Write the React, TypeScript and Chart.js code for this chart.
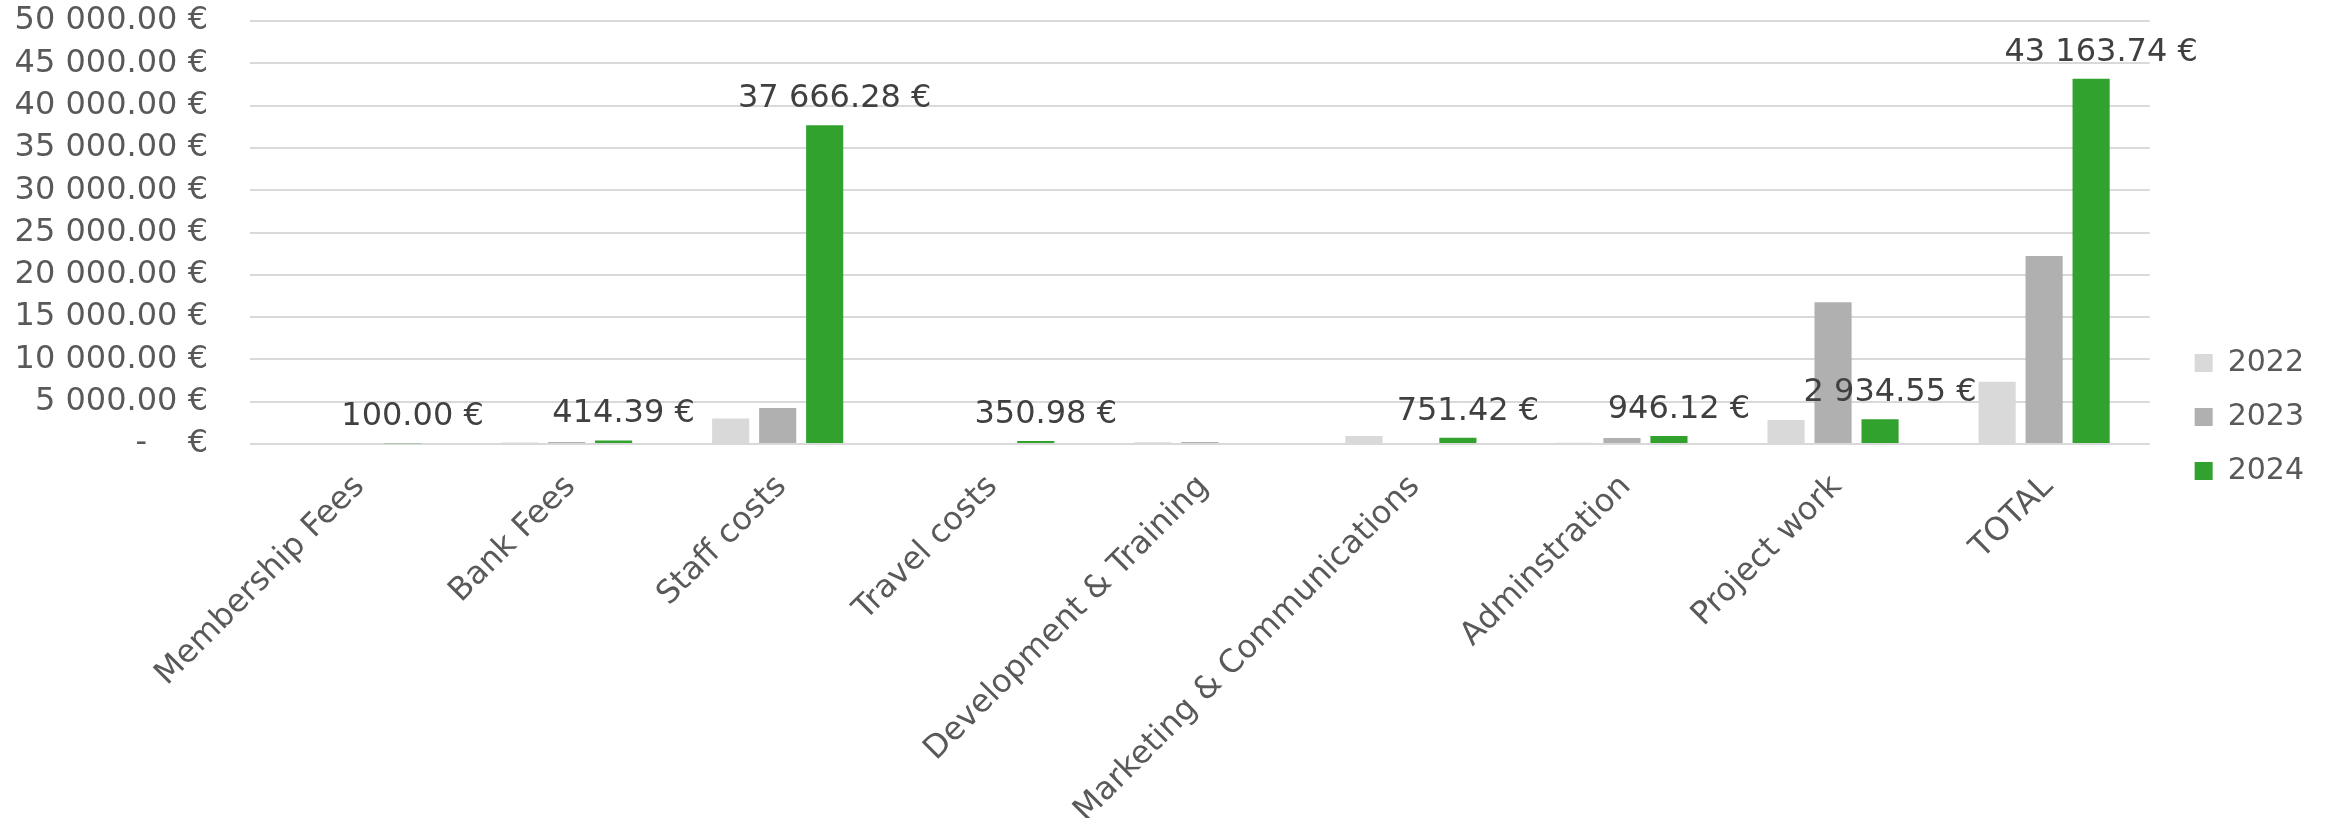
import React, { useEffect, useRef } from 'react';
import { Chart, registerables } from 'chart.js';

Chart.register(...registerables);

const categories = [
  'Membership Fees',
  'Bank Fees',
  'Staff costs',
  'Travel costs',
  'Development & Training',
  'Marketing & Communications',
  'Adminstration',
  'Project work',
  'TOTAL',
];
const seriesNames = ['2022', '2023', '2024'];
const values2022 = [0, 180, 3020, 0, 200, 950, 150, 2850, 7350];
const values2023 = [0, 250, 4250, 0, 250, 0, 700, 16750, 22230];
const values2024 = [100, 414.39, 37666.28, 350.98, 0, 751.42, 946.12, 2934.55, 43163.74];
const yMin = 0;
const yMax = 50000;
const yStep = 5000;
const zeroTickLabel = '-    €';

const FONT = 'DejaVu Sans';
const TEXT = '#595959';
const LABEL_TEXT = '#404040';
const colors = ['#d9d9d9', '#b0b0b0', '#31a22e'];

const fmtEUR = (v: number) => {
  const [i, d] = v.toFixed(2).split('.');
  return i.replace(/\B(?=(\d{3})+(?!\d))/g, ' ') + '.' + d + ' €';
};

const dataLabelPlugin = {
  id: 'dataLabels2024',
  afterDatasetsDraw(chart: any) {
    const ctx = chart.ctx;
    const meta = chart.getDatasetMeta(2);
    const data = chart.data.datasets[2].data as number[];
    ctx.save();
    ctx.font = `32px "${FONT}"`;
    ctx.fillStyle = LABEL_TEXT;
    ctx.textAlign = 'center';
    ctx.textBaseline = 'alphabetic';
    meta.data.forEach((el: any, i: number) => {
      const v = data[i];
      if (!v) return;
      ctx.fillText(fmtEUR(v), el.x + 10, el.y - 18);
    });
    ctx.restore();
  },
};

const legendShiftPlugin = {
  id: 'legendShift',
  afterLayout(chart: any) {
    const l = chart.legend;
    if (!l) return;
    l.left += 21;
    l.right += 21;
    l.top += 8;
    l.bottom += 8;
  },
};

export default function App() {
  const ref = useRef<HTMLCanvasElement | null>(null);
  useEffect(() => {
    document.body.style.margin = '0';
    const canvas = ref.current;
    if (!canvas) return;
    const chart = new Chart(canvas, {
      type: 'bar',
      data: {
        labels: categories,
        datasets: [
          { label: seriesNames[0], data: values2022, backgroundColor: colors[0] },
          { label: seriesNames[1], data: values2023, backgroundColor: colors[1] },
          { label: seriesNames[2], data: values2024, backgroundColor: colors[2] },
        ],
      },
      options: {
        responsive: false,
        animation: false,
        datasets: { bar: { categoryPercentage: 0.668, barPercentage: 0.79 } },
        layout: { padding: { top: 0, left: 0, bottom: 0, right: 40 } },
        plugins: {
          legend: {
            position: 'right',
            labels: {
              boxWidth: 18,
              boxHeight: 18,
              padding: 24,
              color: TEXT,
              font: { family: FONT, size: 30 },
            },
          },
          tooltip: { enabled: false },
        },
        scales: {
          x: {
            grid: { display: false },
            border: { display: false },
            ticks: {
              color: TEXT,
              font: { family: FONT, size: 32 },
              minRotation: 45,
              maxRotation: 45,
              autoSkip: false,
              padding: 16,
              labelOffset: 4,
            },
            afterFit: (s: any) => {
              s.height = 374;
            },
          },
          y: {
            min: yMin,
            max: yMax,
            grid: { color: '#d9d9d9', lineWidth: 2, drawTicks: false },
            border: { display: false },
            ticks: {
              stepSize: yStep,
              autoSkip: false,
              color: TEXT,
              padding: 42,
              font: { family: FONT, size: 32 },
              callback: (v: any) => (Number(v) === 0 ? zeroTickLabel : fmtEUR(Number(v))),
            },
            afterFit: (s: any) => {
              s.width = 250;
              s.paddingTop = 21;
              s.paddingBottom = 0;
            },
          },
        },
      } as any,
      plugins: [dataLabelPlugin, legendShiftPlugin],
    });
    return () => chart.destroy();
  }, []);
  return (
    <div style={{ position: 'absolute', left: 0, top: 0, width: 2333, height: 818, background: '#fff' }}>
      <canvas ref={ref} width={2333} height={818} style={{ display: 'block' }} />
    </div>
  );
}
